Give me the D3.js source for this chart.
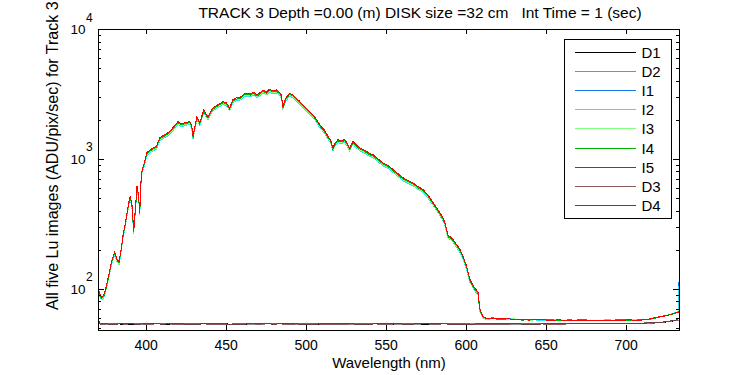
<!DOCTYPE html>
<html>
<head>
<meta charset="utf-8">
<style>
body { margin: 0; background: #fff; }
text { font-family: "Liberation Sans", Arial, sans-serif; fill: #000; }
</style>
</head>
<body>
<script src="https://d3js.org/d3.v7.min.js"></script>
<script>
// wavelengths (nm) for the five Lu images
var wavelength = [
  370.6, 372.3, 373.8, 375.4, 377.5, 378.6, 380.6, 382.1, 383.3, 384.8,
  385.8, 387.3, 389.4, 390.4, 391.5, 392.5, 394.0, 394.6, 395.6, 396.3,
  397.3, 398.8, 400.8, 403.0, 405.0, 406.7, 408.8, 411.9, 414.0, 416.0,
  418.0, 420.2, 422.0, 424.4, 427.5, 428.7, 429.6, 430.6, 432.0, 433.8,
  436.3, 437.6, 439.0, 440.5, 442.0, 445.0, 448.3, 450.5, 452.5, 454.5,
  456.7, 459.5, 461.5, 463.0, 465.5, 467.5, 469.5, 471.0, 473.3, 475.5,
  477.5, 479.5, 481.7, 483.5, 484.8, 485.8, 487.5, 490.0, 492.0, 494.0,
  496.0, 498.3, 501.5, 504.6, 506.5, 508.8, 511.5, 514.0, 515.5, 517.0,
  518.5, 520.2, 522.0, 524.4, 526.0, 527.5, 529.6, 531.5, 533.8, 536.0,
  538.0, 540.0, 542.0, 545.0, 548.3, 551.5, 554.6, 557.5, 560.8, 564.0,
  567.0, 570.0, 573.3, 576.5, 579.6, 582.0, 583.8, 585.5, 587.0, 589.0,
  590.5, 592.0, 594.0, 596.3, 598.5, 600.4, 602.5, 604.6, 606.0, 607.7,
  608.8, 610.8, 613.0, 617.0, 621.0, 626.0, 630.0, 635.0, 640.0, 646.0,
  652.5, 658.0, 665.0, 672.0, 680.0, 688.0, 695.0, 702.0, 708.8, 715.0,
  721.0, 726.0, 729.6, 732.7, 733.2
];

var I1 = [
  93, 83, 85, 100, 132, 155, 183, 163, 154, 200,
  246, 307, 443, 496, 417, 268, 468, 592, 496, 371,
  750, 868, 1072, 1131, 1172, 1199, 1397, 1474, 1526, 1609,
  1726, 1862, 1788, 1820, 1862, 1757, 1429, 1667, 2033, 1820,
  2289, 2133, 2033, 2208, 2370, 2499, 2649, 2589, 2370, 2734,
  2826, 2878, 3034, 3071, 3034, 3142, 2980, 3071, 3253, 3142,
  3312, 3199, 3253, 3142, 2980, 2425, 2813, 3071, 2980, 2813,
  2681, 2499, 2289, 2096, 1953, 1757, 1609, 1429, 1349, 1165,
  1280, 1349, 1326, 1349, 1258, 1165, 1309, 1236, 1165, 1131,
  1097, 1054, 1035, 965, 895, 853, 795, 741, 686, 655,
  629, 589, 559, 503, 443, 400, 371, 342, 311, 246,
  240, 231, 212, 194, 169, 145, 114, 102, 96, 90,
  68, 60, 58.4, 59.0, 58.0, 59.2, 57.8, 57.9, 57.5, 57.6,
  57.8, 57.3, 57.1, 57.6, 57.2, 56.8, 57.6, 57.4, 57.0, 58.6,
  60.9, 62.4, 64.6, 66.8, 112
];

var I2 = [
  92, 82, 85, 99, 131, 153, 181, 162, 152, 198,
  243, 304, 438, 491, 412, 265, 464, 586, 491, 367,
  742, 859, 1061, 1119, 1160, 1187, 1382, 1458, 1511, 1592,
  1708, 1843, 1769, 1801, 1843, 1739, 1415, 1649, 2012, 1801,
  2265, 2111, 2012, 2185, 2346, 2473, 2621, 2562, 2346, 2706,
  2797, 2848, 3002, 3039, 3002, 3109, 2949, 3039, 3220, 3109,
  3278, 3165, 3220, 3109, 2949, 2400, 2784, 3039, 2949, 2784,
  2653, 2473, 2265, 2074, 1932, 1739, 1592, 1415, 1335, 1153,
  1266, 1335, 1312, 1335, 1245, 1153, 1296, 1223, 1153, 1119,
  1086, 1043, 1024, 955, 885, 845, 787, 733, 679, 648,
  622, 583, 553, 498, 438, 396, 367, 338, 308, 243,
  238, 229, 210, 192, 167, 143, 113, 101, 95, 89,
  67, 59.5, 58, 58.8, 58.4, 58.6, 58.0, 57.5, 57.8, 57.2,
  57.3, 57.0, 57.4, 57.2, 57.1, 57.5, 57.3, 57.0, 57.6, 58.3,
  60.6, 62.2, 64.5, 66.5, 105
];

var I3 = [
  94, 83, 86, 100, 133, 155, 184, 164, 154, 201,
  247, 309, 445, 499, 419, 269, 471, 595, 499, 372,
  754, 872, 1078, 1137, 1178, 1205, 1404, 1481, 1534, 1617,
  1735, 1872, 1797, 1830, 1872, 1766, 1437, 1675, 2044, 1830,
  2301, 2144, 2044, 2220, 2383, 2512, 2662, 2603, 2383, 2748,
  2841, 2893, 3049, 3087, 3049, 3158, 2995, 3087, 3270, 3158,
  3329, 3215, 3270, 3158, 2995, 2438, 2827, 3087, 2995, 2827,
  2695, 2512, 2301, 2107, 1963, 1766, 1617, 1437, 1356, 1172,
  1286, 1356, 1333, 1356, 1264, 1172, 1316, 1242, 1172, 1137,
  1103, 1060, 1040, 970, 899, 858, 799, 745, 690, 658,
  632, 593, 562, 506, 445, 402, 372, 344, 313, 247,
  241, 233, 213, 195, 170, 146, 115, 102, 97, 91,
  68, 60, 58.2, 59.2, 58.8, 58.2, 58.6, 57.8, 57.2, 57.9,
  57.4, 57.6, 57.0, 57.2, 57.0, 57.4, 57.0, 57.6, 57.4, 58.0,
  60.5, 62.0, 64.2, 66.0, 68
];

var I4 = [
  95, 84, 87, 102, 135, 158, 187, 167, 157, 204,
  251, 314, 452, 507, 425, 273, 478, 605, 507, 378,
  765, 886, 1095, 1154, 1197, 1224, 1426, 1504, 1558, 1642,
  1762, 1901, 1825, 1858, 1901, 1793, 1459, 1701, 2076, 1858,
  2336, 2178, 2076, 2254, 2420, 2551, 2704, 2643, 2420, 2791,
  2885, 2938, 3097, 3135, 3097, 3208, 3042, 3135, 3321, 3208,
  3381, 3265, 3321, 3208, 3042, 2475, 2871, 3135, 3042, 2871,
  2737, 2551, 2336, 2139, 1993, 1793, 1642, 1459, 1377, 1190,
  1306, 1377, 1353, 1377, 1284, 1190, 1337, 1261, 1190, 1154,
  1120, 1076, 1056, 985, 913, 871, 811, 757, 701, 668,
  642, 602, 570, 514, 452, 409, 378, 349, 318, 251,
  245, 236, 217, 198, 172, 148, 117, 104, 98, 92,
  69, 60.5, 58.5, 59.8, 58.2, 58.5, 58.4, 57.3, 57.7, 57.5,
  57.6, 57.2, 57.5, 57.1, 56.6, 57.0, 57.5, 57.2, 57.5, 58.2,
  60.3, 62.5, 64.0, 66.0, 67
];

var I5 = [
  97, 86, 89, 104, 138, 161, 191, 170, 160, 208,
  256, 320, 461, 517, 434, 279, 488, 617, 517, 386,
  781, 904, 1117, 1178, 1221, 1249, 1455, 1535, 1590, 1676,
  1798, 1940, 1862, 1896, 1940, 1830, 1489, 1736, 2118, 1896,
  2384, 2222, 2118, 2300, 2469, 2603, 2759, 2697, 2469, 2848,
  2944, 2998, 3160, 3199, 3160, 3273, 3104, 3199, 3389, 3273,
  3450, 3332, 3389, 3273, 3104, 2526, 2930, 3199, 3104, 2930,
  2793, 2603, 2384, 2183, 2034, 1830, 1676, 1489, 1405, 1214,
  1333, 1405, 1381, 1405, 1310, 1214, 1364, 1287, 1214, 1178,
  1143, 1098, 1078, 1005, 932, 889, 828, 772, 715, 682,
  655, 614, 582, 524, 461, 417, 386, 356, 324, 256,
  250, 241, 221, 202, 176, 151, 119, 106, 100, 94,
  70, 61, 59, 59.5, 58.5, 58.8, 58, 57.6, 57.4, 57.8,
  57.2, 57.5, 57.2, 56.8, 56.9, 57.3, 57.2, 57.5, 57.2, 58.5,
  60.8, 62.1, 64.4, 66.3, 66
];

// dark images
var darkWavelength = [
  370.4, 370.9, 371.5, 373, 380, 387, 395, 402, 410, 420,
  430, 440, 450, 460, 470, 480, 490, 500, 510, 520,
  535, 550, 565, 580, 595, 610, 625, 640, 655, 665,
  675, 685, 695, 705, 712, 718, 723, 727, 730, 733
];
var D1 = [
  62, 55, 53.5, 53.5, 53.6, 53.4, 53.5, 53.6, 53.5, 53.4,
  53.6, 53.5, 53.5, 53.4, 53.6, 53.5, 53.5, 53.6, 53.4, 53.5,
  53.6, 53.5, 53.4, 53.5, 53.6, 53.5, 53.5, 53.4, 53.6, 53.7,
  53.8, 53.9, 54.0, 54.2, 54.3, 54.5, 55.0, 55.8, 56.5, 57.2
];
var D2 = [
  63, 55.2, 53.7, 53.3, 53.5, 53.7, 53.4, 53.5, 53.7, 53.3,
  53.5, 53.7, 53.4, 53.6, 53.3, 53.7, 53.4, 53.5, 53.7, 53.3,
  53.5, 53.6, 53.3, 53.7, 53.4, 53.6, 53.3, 53.6, 53.5, 53.8,
  53.6, 54.0, 53.9, 54.3, 54.2, 54.6, 55.2, 55.9, 56.7, 57.4
];
var D3 = [
  63, 55, 53.6, 53.3, 53.9, 53.4, 53.8, 53.2, 53.9, 53.3,
  53.8, 53.4, 53.2, 53.9, 53.4, 53.7, 53.3, 53.9, 53.4, 53.2,
  53.8, 53.3, 53.9, 53.4, 53.7, 53.3, 53.4, 53.9, 53.2, 53.6,
  54.0, 53.7, 54.2, 54.1, 54.5, 54.4, 55.1, 56.0, 56.8, 57.5
];
var D4 = [
  64, 55.5, 53.4, 53.8, 53.2, 53.9, 53.3, 54.0, 53.4, 53.7,
  53.2, 53.9, 53.5, 53.3, 54.0, 53.4, 53.8, 53.2, 53.6, 53.9,
  53.3, 53.7, 53.4, 53.9, 53.2, 53.6, 53.8, 53.3, 53.7, 54.0,
  53.6, 54.1, 54.0, 54.3, 54.4, 54.6, 55.3, 56.3, 57.0, 57.8
];

var seriesNames = ["D1", "D2", "I1", "I2", "I3", "I4", "I5", "D3", "D4"];
var seriesColors = ["#000000", "#8c8c8c", "#1478f0", "#30e0f8", "#80ff80", "#00b400", "#ff0000", "#8c5a5a", "#6e3c3c"];
var xTickValues = [400, 450, 500, 550, 600, 650, 700];
var yDecades = [100, 1000, 10000];
var yExponents = ["2", "3", "4"];

var titleText = "TRACK 3 Depth =0.00 (m) DISK size =32 cm   Int Time = 1 (sec)";
var xLabel = "Wavelength (nm)";
var yLabel = "All five Lu images (ADU/pix/sec) for Track 3";

var series = {
  D1: [darkWavelength, D1], D2: [darkWavelength, D2],
  I1: [wavelength, I1], I2: [wavelength, I2], I3: [wavelength, I3],
  I4: [wavelength, I4], I5: [wavelength, I5],
  D3: [darkWavelength, D3], D4: [darkWavelength, D4]
};

var W = 750, H = 375;
var margin = {top: 29, right: 71, bottom: 44, left: 98};
var width = W - margin.left - margin.right,
    height = H - margin.top - margin.bottom - 1;

var svg = d3.select("body").append("svg")
    .attr("width", W)
    .attr("height", H);

var x = d3.scaleLinear().domain([370.2, 733.3]).range([margin.left, margin.left + width]);
var y = d3.scaleLog().domain([48.1, 10000]).range([margin.top + height, margin.top]);

svg.append("clipPath").attr("id", "plotclip")
  .append("rect")
    .attr("x", margin.left).attr("y", margin.top)
    .attr("width", width).attr("height", height);

var line = d3.line()
    .x(function(d) { return x(d[0]); })
    .y(function(d) { return y(d[1]); });

var plot = svg.append("g").attr("clip-path", "url(#plotclip)");
seriesNames.forEach(function(name, i) {
  var s = series[name];
  plot.append("path")
      .attr("d", line(d3.zip(s[0], s[1])))
      .style("fill", "none")
      .style("stroke", seriesColors[i])
      .style("stroke-width", 1)
      .style("shape-rendering", "crispEdges");
});

// axes
var minorTicks = y.ticks().filter(function(v) { return yDecades.indexOf(v) < 0; });

function styleAxis(g) {
  g.select(".domain").remove();
  g.selectAll("line").attr("stroke", "#000").style("shape-rendering", "crispEdges");
  g.selectAll("text").style("font-family", "'Liberation Sans', Arial, sans-serif");
}

svg.append("g")
    .attr("transform", "translate(0," + (margin.top + height) + ")")
    .call(d3.axisBottom(x).tickValues(xTickValues).tickSize(-5).tickPadding(10))
    .call(styleAxis)
    .selectAll("text").style("font-size", "14px").attr("fill", "#000");

svg.append("g")
    .attr("transform", "translate(0," + margin.top + ")")
    .call(d3.axisTop(x).tickValues(xTickValues).tickSize(-5).tickFormat(""))
    .call(styleAxis);

[[d3.axisLeft, margin.left], [d3.axisRight, margin.left + width]].forEach(function(a) {
  svg.append("g")
      .attr("transform", "translate(" + a[1] + ",0)")
      .call(a[0](y).tickValues(yDecades).tickSize(-6).tickFormat(""))
      .call(styleAxis);
  svg.append("g")
      .attr("transform", "translate(" + a[1] + ",0)")
      .call(a[0](y).tickValues(minorTicks).tickSize(-3).tickFormat(""))
      .call(styleAxis);
});

svg.append("rect")
    .attr("x", margin.left + 0.5).attr("y", margin.top + 0.5)
    .attr("width", width).attr("height", height)
    .style("fill", "none").style("stroke", "#000").style("stroke-width", 1)
    .style("shape-rendering", "crispEdges");

// y tick labels 10^n
yDecades.forEach(function(v, i) {
  svg.append("text")
      .attr("x", 85.5).attr("y", y(v) + 5)
      .attr("text-anchor", "end")
      .style("font-size", "13.5px")
      .text("10");
  svg.append("text")
      .attr("x", 86).attr("y", y(v) - 7.5)
      .style("font-size", "12px")
      .text(yExponents[i]);
});

// title and labels
svg.append("text")
    .attr("x", 420).attr("y", 18)
    .attr("text-anchor", "middle")
    .attr("xml:space", "preserve")
    .style("white-space", "pre")
    .style("font-size", "15.5px")
    .text(titleText);

svg.append("text")
    .attr("x", 389).attr("y", 368)
    .attr("text-anchor", "middle")
    .style("font-size", "15px")
    .text(xLabel);

svg.append("text")
    .attr("transform", "translate(58,310) rotate(-90)")
    .style("font-size", "16px")
    .text(yLabel);

// legend
var legend = svg.append("g");
legend.append("rect")
    .attr("x", 564.5).attr("y", 39.5)
    .attr("width", 107).attr("height", 179)
    .style("fill", "#fff").style("stroke", "#000")
    .style("shape-rendering", "crispEdges");

seriesNames.forEach(function(name, i) {
  var ly = Math.round(51.7 + i * 19.17) + 0.5;
  legend.append("line")
      .attr("x1", 575).attr("x2", 636)
      .attr("y1", ly).attr("y2", ly)
      .style("stroke", seriesColors[i])
      .style("stroke-width", 1)
      .style("shape-rendering", "crispEdges");
  legend.append("text")
      .attr("x", 641.5).attr("y", ly + 5.5)
      .style("font-size", "15px")
      .text(name);
});
</script>
</body>
</html>
